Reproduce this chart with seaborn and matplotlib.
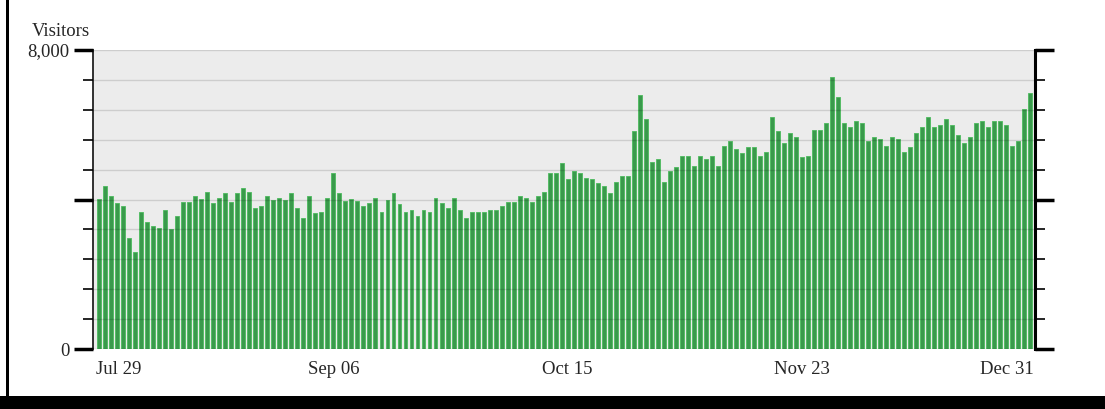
import matplotlib
matplotlib.use("Agg")
import matplotlib.pyplot as plt
import matplotlib.ticker as mticker
from matplotlib.patches import Rectangle
from matplotlib.transforms import ScaledTranslation
import seaborn as sns
import pandas as pd

# ---- data ----
start_date = "2006-07-29"
visitors = [
    4005, 4370, 4102, 3898, 3826, 2979, 2604, 3674, 3407, 3300,
    3246, 3719, 3202, 3567, 3942, 3942, 4102, 4005, 4209, 3898,
    4049, 4165, 3942, 4165, 4316, 4209, 3781, 3835, 4102, 3987,
    4049, 3987, 4165, 3781, 3513, 4102, 3630, 3674, 4049, 4700,
    4165,
    3960, 4005, 3960, 3835, 3898, 4049, 3674, 3987, 4165, 3880,
    3674, 3719, 3567, 3719, 3674, 4049, 3898, 3781, 4049, 3719,
    3513, 3674, 3674, 3674, 3719, 3719, 3835, 3942, 3942, 4102,
    4049, 3942, 4102, 4209, 4700, 4700, 4968, 4540, 4762, 4700,
    4584,
    4540, 4433, 4370, 4165, 4477, 4637, 4637, 5833, 6796, 6146,
    5011, 5073, 4477, 4762, 4861, 5172, 5172, 4905, 5172, 5073,
    5172, 4905, 5440, 5565, 5342, 5236, 5396, 5396, 5172, 5280,
    6199, 5833, 5503, 5771, 5664, 5129, 5172, 5860, 5860, 6039,
    7269, 6734,
    6039, 5932, 6100, 6039, 5565, 5664, 5610, 5440, 5664, 5610,
    5280, 5396, 5771, 5932, 6199, 5932, 5985, 6146, 5985, 5718,
    5503, 5664, 6039, 6100, 5932, 6100, 6100, 5985, 5440, 5565,
    6413, 6841,
]
dates = pd.date_range(start_date, periods=len(visitors))
day_labels = [d.strftime("%b %d") for d in dates]
tick_days = ["Jul 29", "Sep 06", "Oct 15", "Nov 23", "Dec 31"]
y_major = [0, 4000, 8000]
y_major_labels = ["0", "", "8,000"]
y_step = 800
y_max = 8000

df = pd.DataFrame({"day": day_labels, "visitors": visitors})

# ---- figure ----
sns.set_style("white")
plt.rcParams["font.family"] = ["Liberation Serif", "DejaVu Serif"]

W, H = 1105, 409
fig = plt.figure(figsize=(W / 100, H / 100), dpi=100)
ax = fig.add_axes([93 / W, (H - 349) / H, (1035 - 93) / W, (349 - 50) / H])
ax.set_facecolor("#ececec")

sns.barplot(data=df, x="day", y="visitors", ax=ax, color="#3a9a4c",
            width=0.66, edgecolor="#4cbb5e", linewidth=0.6, saturation=1)

ax.set_xlim(-1.05, len(visitors) - 1 + 0.85)
ax.set_ylim(0, y_max)
ax.set_xlabel("")
ax.set_ylabel("")

# x ticks
pos = [day_labels.index(t) for t in tick_days]
ax.set_xticks(pos)
ax.set_xticklabels(tick_days, fontsize=13.5)
ax.tick_params(axis="x", length=0, pad=9)
xt = ax.get_xticklabels()
xt[0].set_ha("left")
xt[-1].set_ha("right")
xt[0].set_transform(xt[0].get_transform() + ScaledTranslation(-3 / 100, 0, fig.dpi_scale_trans))
xt[-1].set_transform(xt[-1].get_transform() + ScaledTranslation(4 / 100, 0, fig.dpi_scale_trans))

# y ticks
ax.yaxis.set_major_locator(mticker.FixedLocator(y_major))
ax.yaxis.set_major_formatter(mticker.FixedFormatter(y_major_labels))
ax.yaxis.set_minor_locator(mticker.MultipleLocator(y_step))
ax.tick_params(axis="y", which="major", left=True, right=True, length=14,
               width=2.5, color="black", labelsize=13.5, pad=3)
ax.tick_params(axis="y", which="minor", left=True, right=True, length=7,
               width=1.2, color="black")

# grid over bars (faint)
ax.set_axisbelow(False)
ax.grid(axis="y", which="both", color="black", alpha=0.13, linewidth=1)
ax.grid(axis="x", visible=False)

for s in ["top", "bottom"]:
    ax.spines[s].set_visible(False)
ax.spines["left"].set_color("#222222")
ax.spines["left"].set_linewidth(1.3)
ax.spines["right"].set_color("black")
ax.spines["right"].set_linewidth(2.2)

# frame decorations
fig.add_artist(Rectangle((0, 0), 1, 13 / H, transform=fig.transFigure,
                         color="black", lw=0))
fig.add_artist(Rectangle((6 / W, 13 / H), 3 / W, 1 - 13 / H,
                         transform=fig.transFigure, color="black", lw=0))
fig.text(32 / W, 1 - 31 / H, "Visitors", fontsize=13.5, ha="left", va="center")

fig.savefig("out.png", dpi=100)
